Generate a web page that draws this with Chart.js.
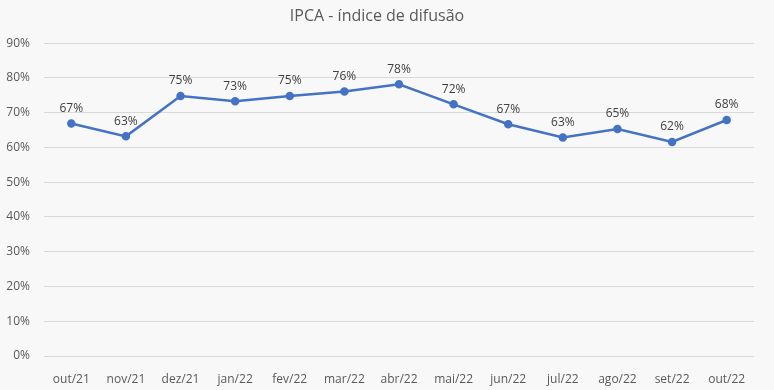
<!DOCTYPE html>
<html><head><meta charset="utf-8">
<script src="https://cdn.jsdelivr.net/npm/chart.js@4"></script>
<style>html,body{margin:0;padding:0;background:#f8f8f8;}#wrap{width:774px;height:390px;}</style>
</head><body><div id="wrap"><canvas id="c" width="774" height="390"></canvas></div>
<script>
const categories = ["out/21","nov/21","dez/21","jan/22","fev/22","mar/22","abr/22","mai/22","jun/22","jul/22","ago/22","set/22","out/22"];
const difusao = [66.9, 63.2, 74.8, 73.3, 74.8, 76.1, 78.2, 72.4, 66.7, 62.9, 65.3, 61.6, 67.9];
const yTicks = [0,10,20,30,40,50,60,70,80,90];
const titleText = "IPCA - índice de difusão";

const labelPlugin = {
  id: 'pointLabels',
  afterDatasetsDraw(chart) {
    const ctx = chart.ctx;
    const meta = chart.getDatasetMeta(0);
    ctx.save();
    ctx.font = '12px "Open Sans", sans-serif';
    ctx.fillStyle = '#404040';
    ctx.textAlign = 'center';
    ctx.textBaseline = 'bottom';
    meta.data.forEach((pt, i) => {
      ctx.fillText(Math.round(difusao[i]) + '%', pt.x, pt.y - 9);
    });
    ctx.restore();
  }
};

new Chart(document.getElementById('c'), {
  type: 'line',
  data: {
    labels: categories,
    datasets: [{
      data: difusao,
      borderColor: '#4472c4',
      backgroundColor: '#4472c4',
      borderWidth: 2.5,
      pointRadius: 3,
      pointBackgroundColor: '#4472c4',
      tension: 0
    }]
  },
  options: {
    responsive: false,
    animation: false,
    layout: { padding: { left: 0, right: 20, top: 0, bottom: 0 } },
    plugins: {
      legend: { display: false },
      tooltip: { enabled: false },
      title: {
        display: true, text: titleText, color: '#595959',
        font: { family: '"Open Sans", sans-serif', size: 16, weight: 'normal' },
        padding: { top: 7, bottom: 17 }
      }
    },
    scales: {
      x: {
        offset: true,
        grid: { display: false },
        border: { display: false },
        afterFit(scale) { scale.height = 34; },
        ticks: { color: '#595959', font: { family: '"Open Sans", sans-serif', size: 12 }, maxRotation: 0, padding: 8 }
      },
      y: {
        min: 0, max: 90,
        afterBuildTicks(scale) { scale.ticks = yTicks.map(v => ({ value: v })); },
        afterFit(scale) { scale.width = 44; },
        grid: { color: '#d9d9d9', lineWidth: 1, drawTicks: false },
        border: { display: false },
        ticks: { color: '#595959', font: { family: '"Open Sans", sans-serif', size: 12 }, padding: 14, callback: v => v + '%' }
      }
    }
  },
  plugins: [labelPlugin]
});
</script></body></html>
